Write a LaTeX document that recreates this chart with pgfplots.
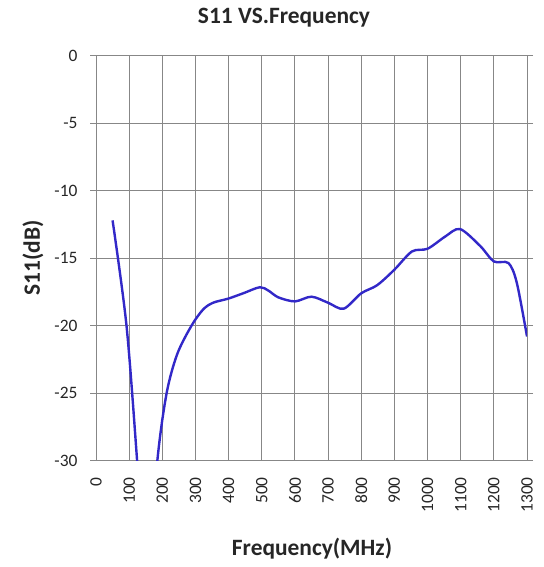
\documentclass[border=0pt]{standalone}
\usepackage{fontspec}
\setmainfont{Carlito}
\usepackage{pgfplots}
\pgfplotsset{compat=1.18}
\definecolor{curve}{RGB}{50,40,200}
\definecolor{gridc}{RGB}{135,135,135}
\begin{document}
\begin{tikzpicture}[x=1bp,y=1bp]
\useasboundingbox (0,0) rectangle (544,-567);
\begin{axis}[
  at={(96bp,-55.7bp)}, anchor=north west,
  scale only axis, width=431bp, height=405bp,
  xmin=0, xmax=1300, ymin=-30, ymax=0,
  xtick={0,100,...,1300}, ytick={-30,-25,...,0},
  grid=major,
  grid style={gridc, line width=1bp},
  axis line style={gridc, line width=1bp},
  xtick style={draw=none},
  ytick style={gridc, line width=1bp},
  tick align=outside, major tick length=6bp,
  /pgf/number format/assume math mode=true,
  /pgf/number format/1000 sep={},
  tick label style={font=\fontsize{17.5}{19}\selectfont, text=black!85},
  x tick label style={rotate=90, anchor=east},
  xticklabel shift=7bp,
  yticklabel shift=9bp,
]
\addplot[curve, line width=2.4bp, smooth, tension=0.5] coordinates {
(50,-12.2) (92,-20.0) (124,-30) (152,-40)
(185,-30) (213,-25) (245,-22.1)
(288,-20.0) (323,-18.8) (353,-18.3) (398,-18.0) (444,-17.6)
(494,-17.15) (520,-17.4) (550,-17.9) (600,-18.2) (650,-17.85) (700,-18.3) (747,-18.74)
(800,-17.6) (848,-17.0) (900,-15.85) (953,-14.5) (1000,-14.3) (1053,-13.4) (1098,-12.84)
(1159,-14.1) (1200,-15.24) (1244,-15.36) (1269,-16.8) (1300,-20.8)
};
\end{axis}
\node[font=\bfseries\fontsize{23.5}{26}\selectfont, text=black!85] at (284,-18) {S11 VS.Frequency};
\node[font=\bfseries\fontsize{23.5}{26}\selectfont, text=black!85] at (312,-549) {Frequency(MHz)};
\node[font=\bfseries\fontsize{23.5}{26}\selectfont, text=black!85, rotate=90] at (33,-258) {S11(dB)};
\end{tikzpicture}
\end{document}
